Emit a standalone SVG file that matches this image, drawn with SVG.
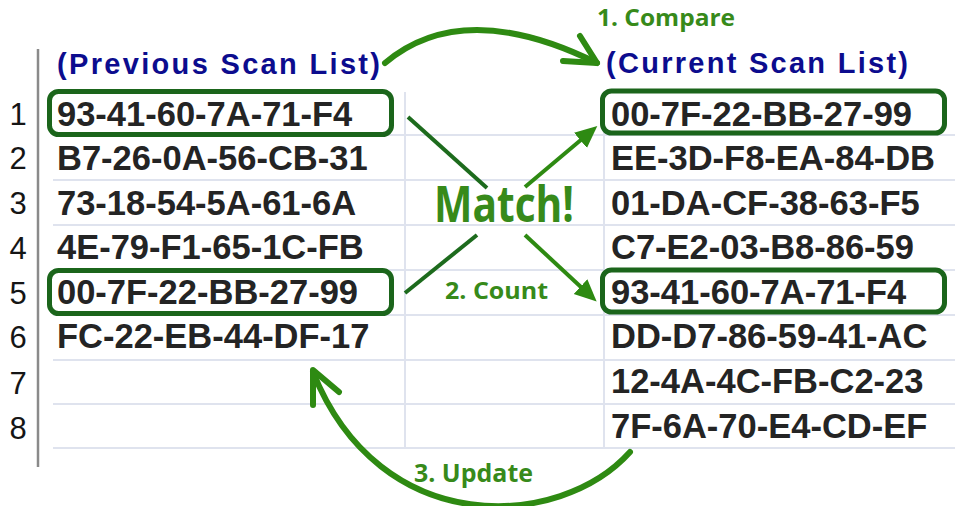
<svg xmlns="http://www.w3.org/2000/svg" width="955" height="506" viewBox="0 0 955 506">
  <style>
    .grid { stroke: #dfe3ee; stroke-width: 2; fill: none; }
    .axis { stroke: #8a8a8a; stroke-width: 2.5; fill: none; }
    .rownum { font-family: "Liberation Sans", Arial, sans-serif; font-size: 31px; fill: #151515; text-anchor: middle; }
    .mac { font-family: "Liberation Sans", Arial, sans-serif; font-size: 34.5px; font-weight: bold; fill: #242424; }
    .head { font-family: "Liberation Sans", Arial, sans-serif; font-size: 29px; font-weight: bold; fill: #0c0c8e; }
    .step { font-family: "Open Sans", "Liberation Sans", sans-serif; font-weight: bold; fill: #378a1a; }
    .hit { fill: none; stroke: #1b651b; stroke-width: 5; }
    .link { stroke: #1d6b1d; stroke-width: 4; fill: none; }
    .flow { stroke: #2e8a12; stroke-width: 4; fill: none; }
    .curve { stroke: #2e8a12; stroke-width: 6; fill: none; stroke-linecap: round; stroke-linejoin: round; }
  </style>
  <defs>
    <marker id="tri" markerUnits="userSpaceOnUse" markerWidth="24" markerHeight="22" refX="2" refY="10" orient="auto">
      <path d="M0,0 L22,10 L0,20 z" fill="#2e8a12"/>
    </marker>
  </defs>

  <rect width="955" height="506" fill="#ffffff"/>

  <!-- spreadsheet grid -->
  <g id="grid">
    <line class="grid" x1="53" y1="135" x2="955" y2="135"/>
    <line class="grid" x1="53" y1="180" x2="955" y2="180"/>
    <line class="grid" x1="53" y1="225" x2="955" y2="225"/>
    <line class="grid" x1="53" y1="270" x2="955" y2="270"/>
    <line class="grid" x1="53" y1="315" x2="955" y2="315"/>
    <line class="grid" x1="53" y1="360" x2="955" y2="360"/>
    <line class="grid" x1="53" y1="404" x2="955" y2="404"/>
    <line class="grid" x1="53" y1="448" x2="955" y2="448"/>
    <line class="grid" x1="405" y1="92" x2="405" y2="449"/>
    <line class="grid" x1="604" y1="92" x2="604" y2="449"/>
    <line class="axis" x1="38" y1="49" x2="38" y2="467"/>
  </g>

  <!-- row numbers -->
  <g id="row-numbers">
    <text class="rownum" x="18" y="125">1</text>
    <text class="rownum" x="18" y="169">2</text>
    <text class="rownum" x="18" y="214">3</text>
    <text class="rownum" x="18" y="259">4</text>
    <text class="rownum" x="18" y="304">5</text>
    <text class="rownum" x="18" y="348">6</text>
    <text class="rownum" x="18" y="394">7</text>
    <text class="rownum" x="18" y="439">8</text>
  </g>

  <!-- previous scan list -->
  <g id="previous-list">
    <text class="head" x="57" y="74" textLength="323">(Previous Scan List)</text>
    <text class="mac" x="57" y="126">93-41-60-7A-71-F4</text>
    <text class="mac" x="57" y="170">B7-26-0A-56-CB-31</text>
    <text class="mac" x="57" y="215">73-18-54-5A-61-6A</text>
    <text class="mac" x="57" y="259">4E-79-F1-65-1C-FB</text>
    <text class="mac" x="57" y="304">00-7F-22-BB-27-99</text>
    <text class="mac" x="57" y="348">FC-22-EB-44-DF-17</text>
  </g>

  <!-- current scan list -->
  <g id="current-list">
    <text class="head" x="606" y="73" textLength="302">(Current Scan List)</text>
    <text class="mac" x="611" y="126">00-7F-22-BB-27-99</text>
    <text class="mac" x="611" y="170">EE-3D-F8-EA-84-DB</text>
    <text class="mac" x="611" y="215">01-DA-CF-38-63-F5</text>
    <text class="mac" x="611" y="259">C7-E2-03-B8-86-59</text>
    <text class="mac" x="611" y="304">93-41-60-7A-71-F4</text>
    <text class="mac" x="611" y="348">DD-D7-86-59-41-AC</text>
    <text class="mac" x="611" y="393">12-4A-4C-FB-C2-23</text>
    <text class="mac" x="611" y="438">7F-6A-70-E4-CD-EF</text>
  </g>

  <!-- matched entries -->
  <g id="match-boxes">
    <rect id="prev-row1" class="hit" x="49.5" y="91.5" width="342" height="43" rx="9"/>
    <rect id="prev-row5" class="hit" x="49.5" y="270.5" width="342" height="43" rx="9"/>
    <rect id="curr-row1" class="hit" x="602.5" y="91" width="342" height="42" rx="9"/>
    <rect id="curr-row5" class="hit" x="602.5" y="270" width="342" height="42" rx="9"/>
  </g>

  <!-- connectors -->
  <g id="connectors">
    <path class="curve" d="M385,63 Q463,-3 597,63"/>
    <polyline class="curve" points="580,36 597,63 563,61"/>
    <line class="link" x1="408" y1="117" x2="487" y2="188"/>
    <line class="link" x1="405" y1="293" x2="477" y2="235"/>
    <line class="flow" x1="525" y1="187" x2="582" y2="139" marker-end="url(#tri)"/>
    <line class="flow" x1="525" y1="235" x2="582" y2="288" marker-end="url(#tri)"/>
    <path class="curve" d="M630,452 C560,530 380,540 313,372"/>
    <polyline class="curve" points="313,405 313,370 339,392"/>
  </g>

  <!-- step labels -->
  <g id="labels">
    <text class="step" x="597" y="26" font-size="24" textLength="138" lengthAdjust="spacingAndGlyphs">1. Compare</text>
    <text class="step" x="434" y="222" font-size="50" fill="#2a8a16" textLength="140" lengthAdjust="spacingAndGlyphs">Match!</text>
    <text class="step" x="445" y="299" font-size="24" textLength="103" lengthAdjust="spacingAndGlyphs">2. Count</text>
    <text class="step" x="414" y="482" font-size="25" textLength="119" lengthAdjust="spacingAndGlyphs">3. Update</text>
  </g>
</svg>
